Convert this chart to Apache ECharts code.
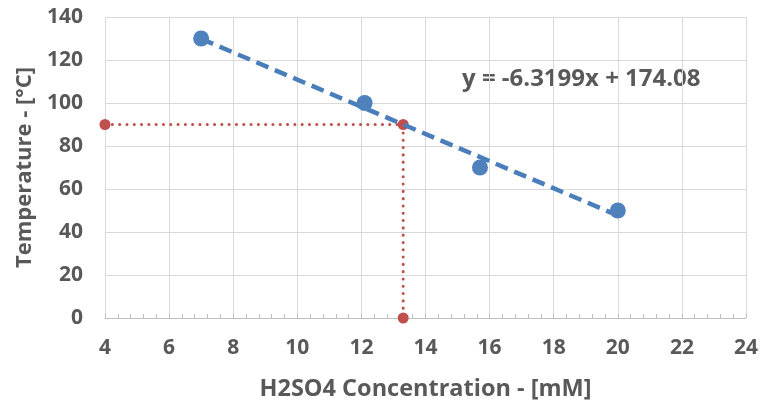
<!DOCTYPE html>
<html>
<head>
<meta charset="utf-8">
<script src="https://cdn.jsdelivr.net/npm/echarts@6/dist/echarts.min.js"></script>
<style>
  html, body { margin: 0; padding: 0; background: #fff; }
  #chart { width: 761px; height: 406px; }
</style>
</head>
<body>
<div id="chart"></div>
<script>
// Measured points: H2SO4 concentration (mM) vs temperature (°C)
const concentration = [7, 12.1, 15.7, 20];
const temperature = [130, 100, 70, 50];

// Linear fit reported on the chart
const slope = -6.3199;
const intercept = 174.08;
const fitRange = [7, 20];

// Read-off at the target temperature
const targetTemp = 90;
const xMin = 4;
const targetConc = (targetTemp - intercept) / slope;

const xTicks = { min: 4, max: 24, interval: 2 };
const yTicks = { min: 0, max: 140, interval: 20 };

const textColor = '#595959';
const gridColor = '#d9d9d9';
const font = '"Open Sans", "DejaVu Sans", sans-serif';

const fitLine = fitRange.map(x => [x, slope * x + intercept]);
const readOff = [[xMin, targetTemp], [targetConc, targetTemp], [targetConc, 0]];

const chart = echarts.init(document.getElementById('chart'));
chart.setOption({
  animation: false,
  backgroundColor: '#fff',
  grid: { left: 105, right: 14, top: 17, bottom: 88, containLabel: false },
  xAxis: {
    type: 'value',
    min: xTicks.min, max: xTicks.max, interval: xTicks.interval,
    name: 'H2SO4 Concentration - [mM]',
    nameLocation: 'middle',
    nameGap: 59,
    nameTextStyle: { color: textColor, fontFamily: font, fontWeight: 'bold', fontSize: 23.5 },
    axisLine: { show: true, lineStyle: { color: '#bfbfbf', width: 1 } },
    axisTick: { show: true, inside: true, length: 4, lineStyle: { color: '#bfbfbf' } },
    minorTick: { show: true, splitNumber: 5, length: 4, lineStyle: { color: '#bfbfbf' } },
    axisLabel: { color: textColor, fontFamily: font, fontWeight: 'bold', fontSize: 21, margin: 20 },
    splitLine: { show: true, lineStyle: { color: gridColor, width: 1 } }
  },
  yAxis: {
    type: 'value',
    min: yTicks.min, max: yTicks.max, interval: yTicks.interval,
    name: 'Temperature - [°C]',
    nameLocation: 'middle',
    nameGap: 68,
    nameTextStyle: { color: textColor, fontFamily: font, fontWeight: 'bold', fontSize: 22 },
    axisLine: { show: false },
    axisTick: { show: false },
    axisLabel: { color: textColor, fontFamily: font, fontWeight: 'bold', fontSize: 21, margin: 22 },
    splitLine: { show: true, lineStyle: { color: gridColor, width: 1 } }
  },
  graphic: [{
    type: 'text',
    left: 462, top: 67,
    style: {
      text: 'y = -6.3199x + 174.08',
      fill: textColor,
      font: 'bold 24px ' + font
    }
  }],
  series: [
    {
      name: 'Read-off',
      type: 'line',
      data: readOff,
      symbol: 'circle',
      symbolSize: 11,
      itemStyle: { color: '#c0504d' },
      lineStyle: { color: '#c0504d', width: 3, type: [0.1, 7.2], cap: 'round' },
      z: 3
    },
    {
      name: 'Fit',
      type: 'line',
      data: fitLine,
      symbol: 'none',
      lineStyle: { color: '#4a7ebb', width: 4.5, type: [13, 7] },
      z: 4
    },
    {
      name: 'Measured',
      type: 'scatter',
      data: concentration.map((x, i) => [x, temperature[i]]),
      symbol: 'circle',
      symbolSize: 16,
      itemStyle: { color: '#4f81bd', opacity: 1 },
      z: 5
    }
  ]
});
</script>
</body>
</html>
